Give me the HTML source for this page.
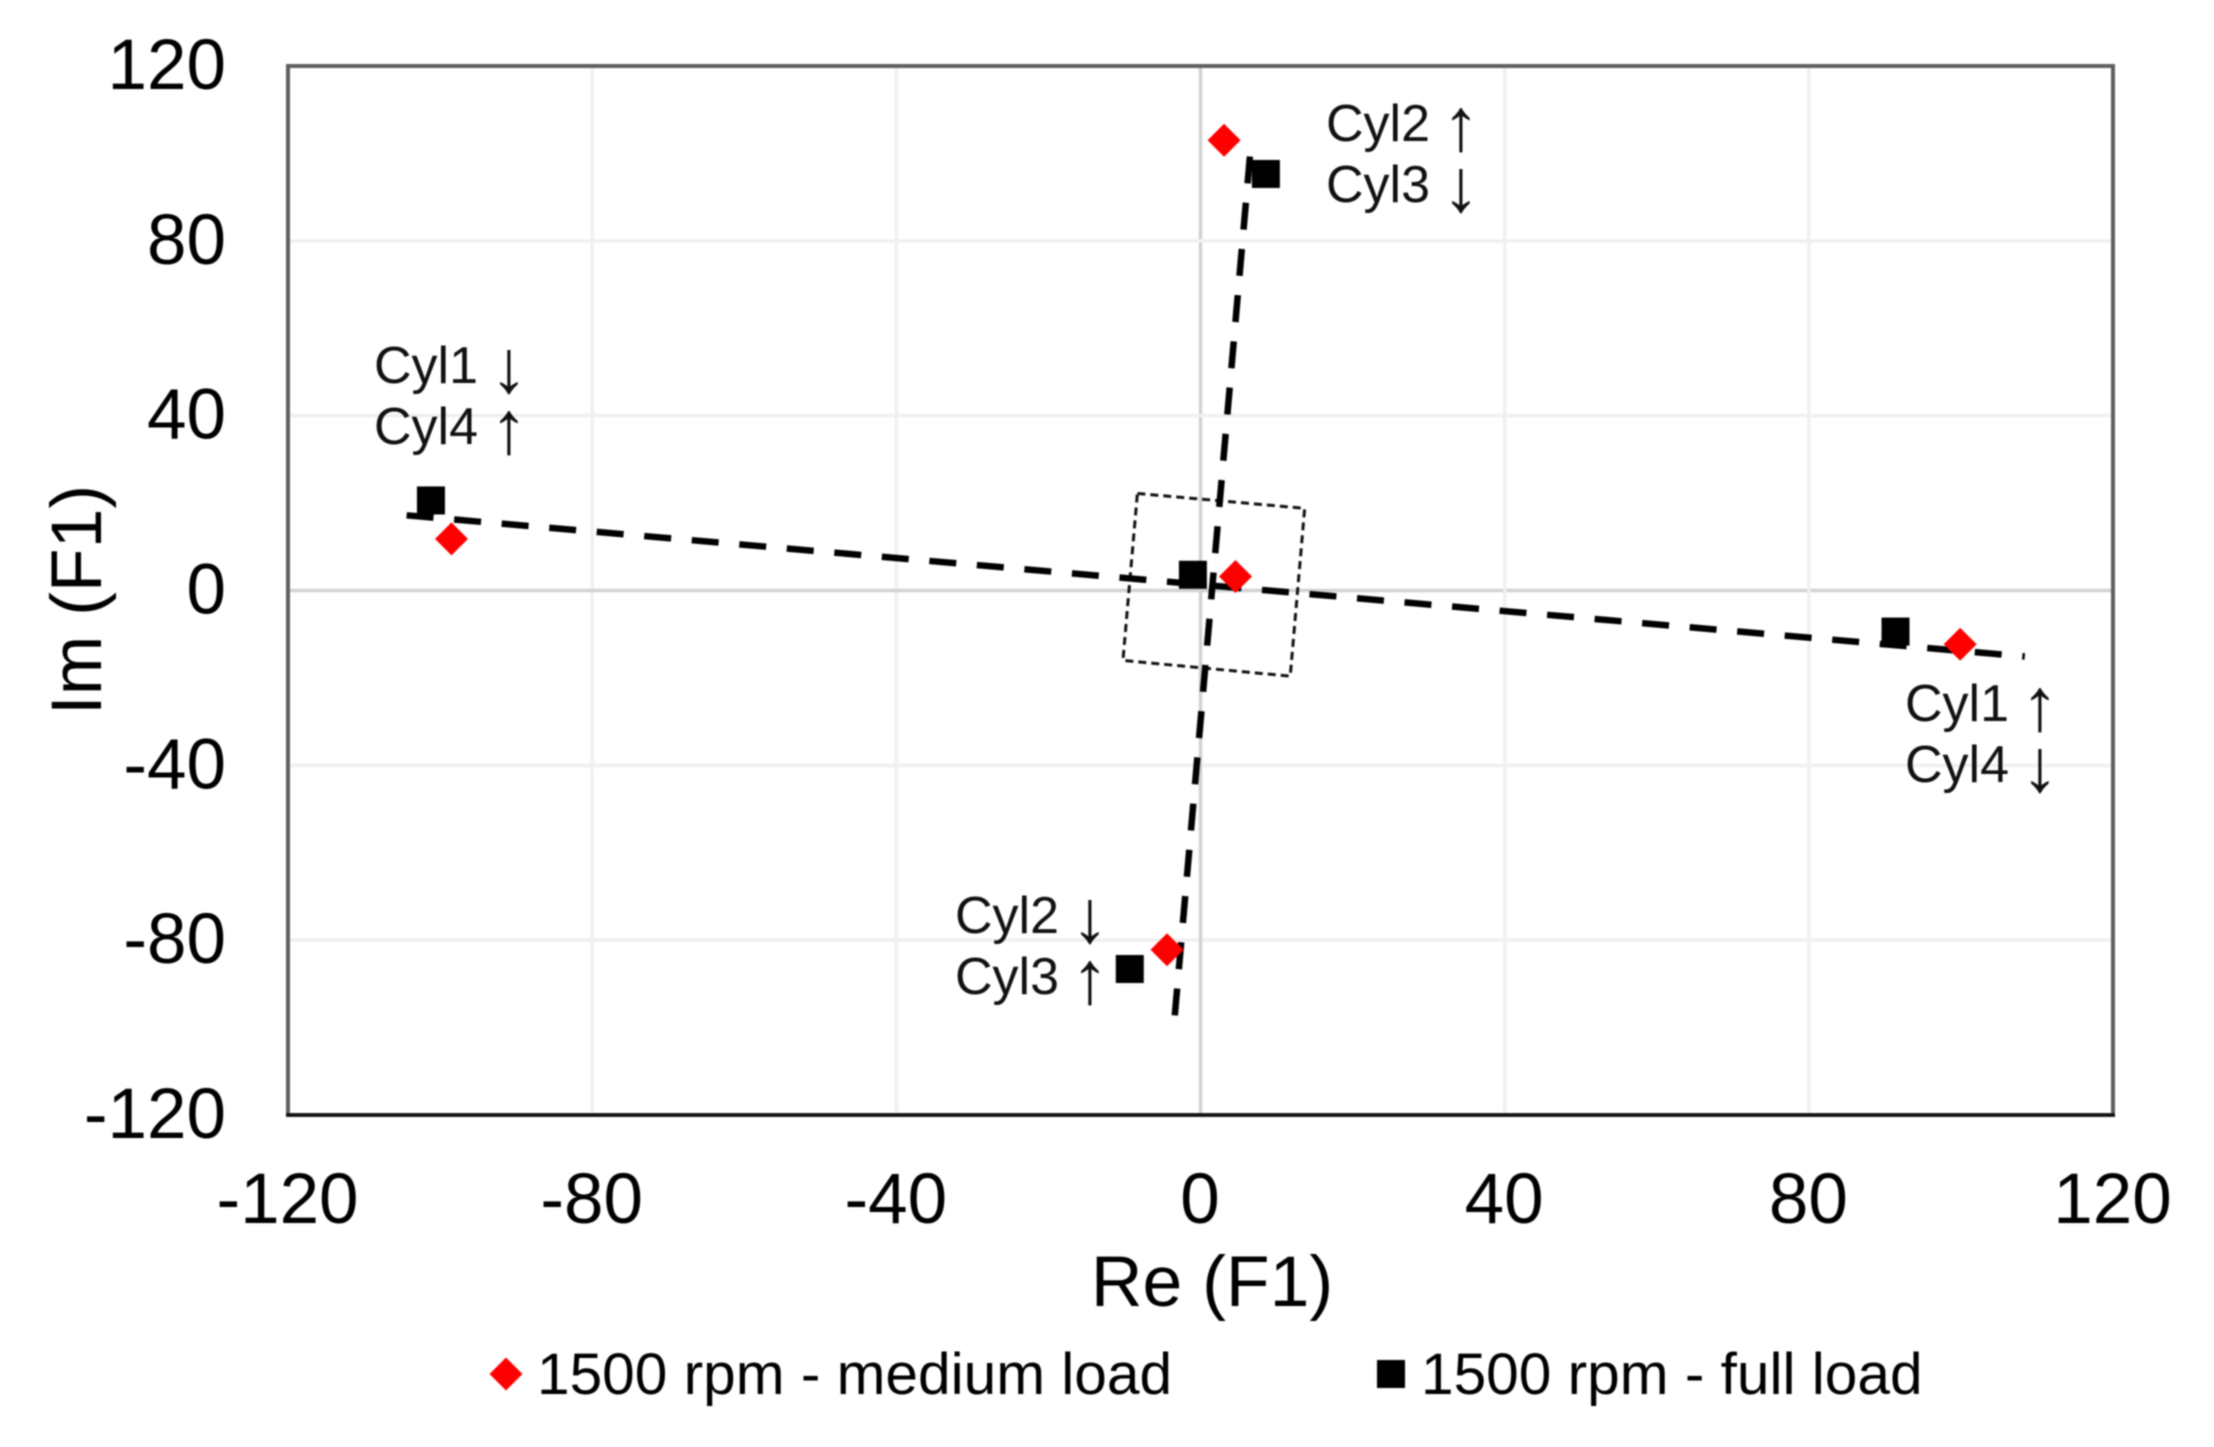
<!DOCTYPE html>
<html lang="en">
<head>
<meta charset="utf-8">
<title>Re/Im F1 scatter</title>
<style>
html,body{margin:0;padding:0;background:#fff;}
svg{display:block;font-family:"Liberation Sans",Arial,sans-serif;}
text{fill:#000;}
.soft{filter:blur(0.9px);}
.tick{font-size:71px;}
.title{font-size:71.5px;}
.note{font-size:52px;fill:#111;}
.arrow{font-size:75px;fill:#111;text-anchor:middle;}
.legend{font-size:58.6px;}
</style>
</head>
<body>
<svg id="chart" xmlns="http://www.w3.org/2000/svg" width="2214" height="1447" viewBox="0 0 2214 1447">
  <rect x="0" y="0" width="2214" height="1447" fill="#fff"/>
  <g class="soft">
    <g id="grid"></g>
    <rect x="288" y="66" width="1825" height="1049" fill="none" stroke="#5f5f5f" stroke-width="4"/>
    <line x1="286" y1="1115" x2="2115" y2="1115" stroke="#111" stroke-width="3.5"/>
    <g id="xticks"></g>
    <g id="yticks"></g>
    <text class="title" x="1212" y="1306" text-anchor="middle">Re (F1)</text>
    <text class="title" transform="translate(101,600) rotate(-90)" text-anchor="middle">Im (F1)</text>
    <g id="overlays"></g>
    <g id="points"></g>

    <g>
      <text class="note" x="374" y="383">Cyl1</text>
      <text class="arrow" x="509" y="392">↓</text>
      <text class="note" x="374" y="444">Cyl4</text>
      <text class="arrow" x="509" y="453">↑</text>
    </g>
    <g>
      <text class="note" x="1326" y="141">Cyl2</text>
      <text class="arrow" x="1461" y="150">↑</text>
      <text class="note" x="1326" y="202">Cyl3</text>
      <text class="arrow" x="1461" y="211">↓</text>
    </g>
    <g>
      <text class="note" x="1905" y="721">Cyl1</text>
      <text class="arrow" x="2040" y="730">↑</text>
      <text class="note" x="1905" y="782">Cyl4</text>
      <text class="arrow" x="2040" y="791">↓</text>
    </g>
    <g>
      <text class="note" x="955" y="933">Cyl2</text>
      <text class="arrow" x="1090" y="942">↓</text>
      <text class="note" x="955" y="994">Cyl3</text>
      <text class="arrow" x="1090" y="1003">↑</text>
    </g>

    <g>
      <g>
        <polygon points="506,1357.5 522.5,1374 506,1390.5 489.5,1374" fill="#ff0000"/>
        <text class="legend" x="537" y="1394">1500 rpm - medium load</text>
      </g>
      <g>
        <rect x="1377" y="1360" width="28" height="28" fill="#000"/>
        <text class="legend" x="1421" y="1394">1500 rpm - full load</text>
      </g>
    </g>
  </g>
</svg>
<script>
var tickValues = [-120, -80, -40, 0, 40, 80, 120];
var tickLabels = ["-120", "-80", "-40", "0", "40", "80", "120"];

var mediumRe = [3.1, 4.6, 99.9, -98.5, -4.4];
var mediumIm = [103.0, 3.2, -12.3, 11.8, -82.2];

var fullRe = [8.6, -1.0, 91.4, -101.2, -9.3];
var fullIm = [95.3, 3.6, -9.4, 20.6, -86.6];

var axisLine1Re = [-104.4, 108.4];
var axisLine1Im = [17.2, -15.1];

var axisLine2Re = [6.5, -3.4];
var axisLine2Im = [99.3, -97.6];

var boxRe = [-8.3, 13.7, 11.8, -10.2];
var boxIm = [22.2, 18.8, -19.6, -16.0];

var SVGNS = 'http://www.w3.org/2000/svg';
var plotLeft = 288, plotRight = 2113, plotTop = 66, plotBottom = 1115;
var domainMin = -120, domainMax = 120;

function sx(v) {
  return plotLeft + (v - domainMin) / (domainMax - domainMin) * (plotRight - plotLeft);
}
function sy(v) {
  return plotBottom - (v - domainMin) / (domainMax - domainMin) * (plotBottom - plotTop);
}
function make(tag, attrs, parent) {
  var el = document.createElementNS(SVGNS, tag);
  for (var k in attrs) {
    el.setAttribute(k, attrs[k]);
  }
  parent.appendChild(el);
  return el;
}

var grid = document.getElementById('grid');
var xticks = document.getElementById('xticks');
var yticks = document.getElementById('yticks');
var overlays = document.getElementById('overlays');
var points = document.getElementById('points');

tickValues.forEach(function (v, i) {
  var isZero = v === 0;
  var isEdge = v === domainMin || v === domainMax;
  if (!isEdge) {
    var stroke = isZero ? '#d2d2d2' : '#f0f0f0';
    var vLine = make('line', { x1: sx(v), y1: plotTop, x2: sx(v), y2: plotBottom, stroke: stroke, 'stroke-width': 3.5 }, grid);
    
    
    var hLine = make('line', { x1: plotLeft, y1: sy(v), x2: plotRight, y2: sy(v), stroke: stroke, 'stroke-width': 3.5 }, grid);
    
    
  }
  var xt = make('text', { 'class': 'tick', x: sx(v) - 0.5, y: 1223, 'text-anchor': 'middle' }, xticks);
  xt.textContent = tickLabels[i];
  
  
  var yt = make('text', { 'class': 'tick', x: 226, y: sy(v) + 23, 'text-anchor': 'end' }, yticks);
  yt.textContent = tickLabels[i];
  
  
});

var boxPts = boxRe.map(function (r, i) { return sx(r) + ',' + sy(boxIm[i]); }).join(' ');
var box = make('polygon', { points: boxPts, fill: 'none', stroke: '#111', 'stroke-width': 3, 'stroke-dasharray': '8 5' }, overlays);



var line1 = make('line', { x1: sx(axisLine1Re[0]), y1: sy(axisLine1Im[0]), x2: sx(axisLine1Re[1]), y2: sy(axisLine1Im[1]), stroke: '#000', 'stroke-width': 6.5, 'stroke-dasharray': '27 20.7' }, overlays);



var line2 = make('line', { x1: sx(axisLine2Re[0]), y1: sy(axisLine2Im[0]), x2: sx(axisLine2Re[1]), y2: sy(axisLine2Im[1]), stroke: '#000', 'stroke-width': 6.5, 'stroke-dasharray': '27 19.4' }, overlays);



fullRe.forEach(function (r, i) {
  var s = make('rect', { x: sx(r) - 14, y: sy(fullIm[i]) - 14, width: 28, height: 28, fill: '#000' }, points);
  
  
});
mediumRe.forEach(function (r, i) {
  var cx = sx(r), cy = sy(mediumIm[i]), h = 16.5;
  var d = make('polygon', { points: cx + ',' + (cy - h) + ' ' + (cx + h) + ',' + cy + ' ' + cx + ',' + (cy + h) + ' ' + (cx - h) + ',' + cy, fill: '#ff0000' }, points);
  
  
});
</script>
</body>
</html>
